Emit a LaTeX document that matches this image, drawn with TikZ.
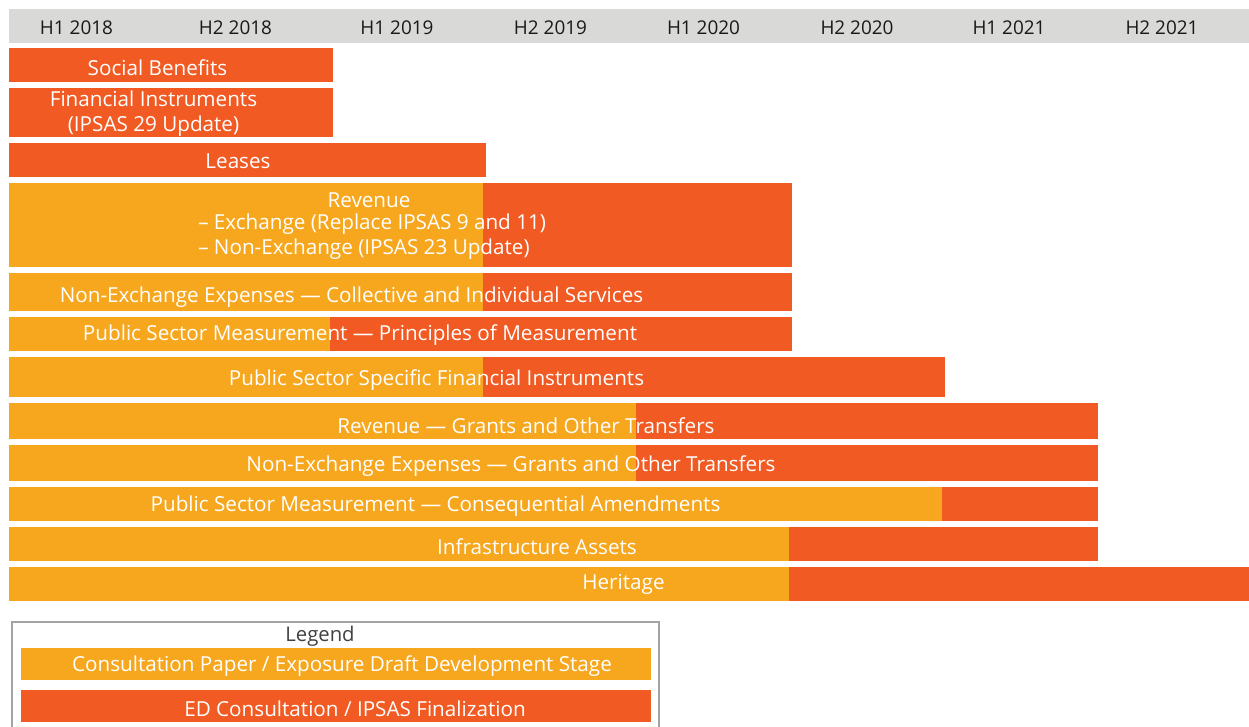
\documentclass[tikz,border=0pt]{standalone}
\usepackage{fontspec}
\setmainfont{Open Sans}
\newfontfamily\hdrfont{Open Sans}
\definecolor{cpyellow}{HTML}{F7A71E}
\definecolor{edred}{HTML}{F15A22}
\definecolor{hdrgray}{HTML}{D9D9D8}
\definecolor{legframe}{HTML}{A3A3A3}
\begin{document}
\begin{tikzpicture}[x=0.75pt,y=-0.75pt,
  lbl/.style={text=white,font=\fontsize{15.5}{18.8}\selectfont,inner sep=0pt,align=center},
  hdr/.style={text=black!90,font=\hdrfont\fontsize{14.2}{16}\selectfont,inner sep=0pt},
  cp/.style={fill=cpyellow},
  ed/.style={fill=edred}]
\useasboundingbox (0,0) rectangle (1249,726);
\clip (0,0) rectangle (1249,726);
% header
\fill[hdrgray] (9,9) rectangle (1249,43);
\node[hdr] (h1) at (76.5,27.5) {H1 2018};
\node[hdr] (h2) at (235.5,27.5) {H2 2018};
\node[hdr] (h3) at (397,27.5) {H1 2019};
\node[hdr] (h4) at (550.5,27.5) {H2 2019};
\node[hdr] (h5) at (703.5,27.5) {H1 2020};
\node[hdr] (h6) at (857,27.5) {H2 2020};
\node[hdr] (h7) at (1009,27.5) {H1 2021};
\node[hdr] (h8) at (1162,27.5) {H2 2021};
% bars
\fill[ed] (9,48) rectangle (333,81.5);
\fill[ed] (9,88) rectangle (333,136.5);
\fill[ed] (9,143) rectangle (486,176.5);
\fill[cp] (9,183) rectangle (483,266.5);
\fill[ed] (483,183) rectangle (792,266.5);
\fill[cp] (9,273) rectangle (483,310.5);
\fill[ed] (483,273) rectangle (792,310.5);
\fill[cp] (9,317) rectangle (330,350.5);
\fill[ed] (330,317) rectangle (792,350.5);
\fill[cp] (9,357) rectangle (483,397);
\fill[ed] (483,357) rectangle (945,397);
\fill[cp] (9,403) rectangle (636,439);
\fill[ed] (636,403) rectangle (1098,439);
\fill[cp] (9,445) rectangle (636,481);
\fill[ed] (636,445) rectangle (1098,481);
\fill[cp] (9,487) rectangle (942,521);
\fill[ed] (942,487) rectangle (1098,521);
\fill[cp] (9,527) rectangle (789,561);
\fill[ed] (789,527) rectangle (1098,561);
\fill[cp] (9,567) rectangle (789,601);
\fill[ed] (789,567) rectangle (1249,601);
% labels
\node[lbl] (sb) at (157.5,67.5) {Social Benefits};
\node[lbl] (fi) at (153.5,113.5) {Financial Instruments\\(IPSAS 29 Update)};
\node[lbl] (le) at (238,161.5) {Leases};
\node[lbl] (rv) at (369,200.5) {Revenue};
\node[lbl,anchor=west] (rv1) at (198,224.5) {– Exchange (Replace IPSAS 9 and 11)};
\node[lbl,anchor=west] (rv2) at (198,249.5) {– Non-Exchange (IPSAS 23 Update)};
\node[lbl] (ne) at (351.5,297.5) {Non-Exchange Expenses — Collective and Individual Services};
\node[lbl] (pm) at (360,335.5) {Public Sector Measurement — Principles of Measurement};
\node[lbl] (ps) at (436.5,380.5) {Public Sector Specific Financial Instruments};
\node[lbl] (rg) at (526,425.5) {Revenue — Grants and Other Transfers};
\node[lbl] (ng) at (511,466.5) {Non-Exchange Expenses — Grants and Other Transfers};
\node[lbl] (ca) at (435.5,506.5) {Public Sector Measurement — Consequential Amendments};
\node[lbl] (ia) at (537,546.5) {Infrastructure Assets};
\node[lbl] (he) at (623.5,584.5) {Heritage};
% legend
\draw[legframe,line width=1.5pt] (12,622) rectangle (659,740);
\node[text=black!75,font=\fontsize{15.2}{16}\selectfont,inner sep=0pt] (lg) at (320,636) {Legend};
\fill[cp] (21,648) rectangle (651,680);
\fill[ed] (21,690) rectangle (651,722);
\node[lbl] (l1) at (342,666.5) {Consultation Paper / Exposure Draft Development Stage};
\node[lbl] (l2) at (355,708.5) {ED Consultation / IPSAS Finalization};
\end{tikzpicture}
\end{document}
